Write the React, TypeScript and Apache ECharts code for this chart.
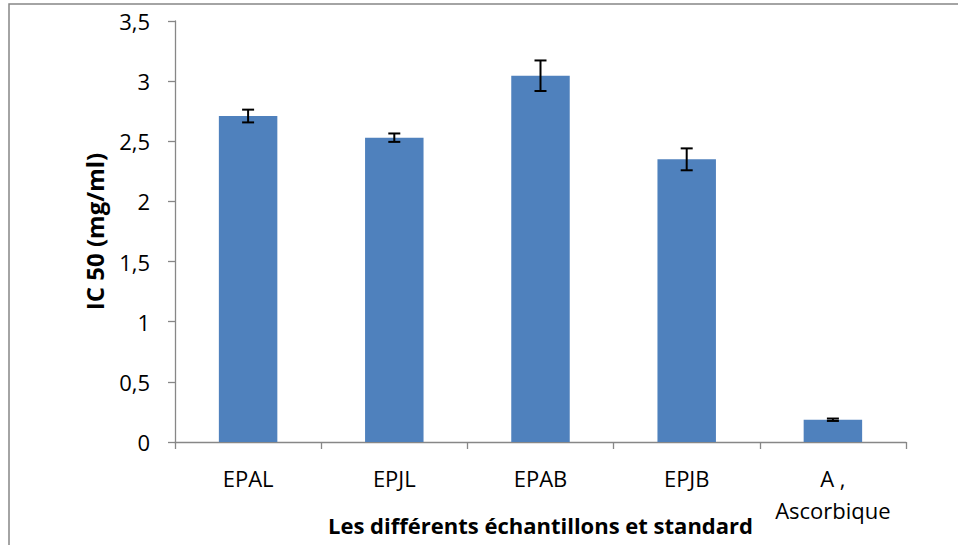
import React, { useEffect, useRef } from "react";
import * as echarts from "echarts";

const categories = ["EPAL", "EPJL", "EPAB", "EPJB", "A ,\nAscorbique"];
const values = [2.71, 2.53, 3.045, 2.35, 0.185];
const errors = [0.053, 0.035, 0.127, 0.091, 0.01];
const yTicks = { min: 0, max: 3.5, interval: 0.5 };

const FONT = "'Open Sans', sans-serif";

export default function App() {
  const ref = useRef<HTMLDivElement>(null);
  useEffect(() => {
    if (!ref.current) return;
    const chart = echarts.init(ref.current, null, { renderer: "svg" });
    const errData = values.map((v, i) => [i, v - errors[i], v + errors[i]]);
    chart.setOption({
      animation: false,
      backgroundColor: "#ffffff",
      graphic: [
        {
          type: "rect",
          shape: { x: 9, y: 4, width: 1000, height: 600 },
          style: { fill: "none", stroke: "#878787", lineWidth: 1.5 },
          silent: true,
        },
      ],
      grid: { left: 175, right: 52, top: 21, bottom: 103, containLabel: false, outerBoundsMode: "none" },
      xAxis: {
        type: "category",
        data: categories,
        axisLine: { lineStyle: { color: "#878787", width: 1.3 } },
        axisTick: { show: true, length: 7, lineStyle: { color: "#878787", width: 1.3 } },
        axisLabel: {
          color: "#000",
          fontFamily: FONT,
          fontSize: 22,
          lineHeight: 32,
          margin: 20,
          interval: 0,
        },
        name: "Les différents échantillons et standard",
        nameLocation: "middle",
        nameGap: 72,
        nameMoveOverlap: false,
        nameTextStyle: { color: "#000", fontFamily: FONT, fontSize: 22, fontWeight: "bold" },
      },
      yAxis: {
        type: "value",
        min: yTicks.min,
        max: yTicks.max,
        interval: yTicks.interval,
        splitLine: { show: false },
        axisLine: { show: true, lineStyle: { color: "#878787", width: 1.3 } },
        axisTick: { show: true, length: 7, lineStyle: { color: "#878787", width: 1.3 } },
        axisLabel: {
          color: "#000",
          fontFamily: FONT,
          fontSize: 22,
          margin: 25,
          formatter: (v: number) => String(v).replace(".", ","),
        },
        name: "IC 50 (mg/ml)",
        nameLocation: "middle",
        nameGap: 69,
        nameMoveOverlap: false,
        nameTextStyle: { color: "#000", fontFamily: FONT, fontSize: 24, fontWeight: "bold" },
      },
      series: [
        {
          type: "bar",
          data: values,
          barWidth: "40%",
          itemStyle: { color: "#4F81BD" },
        },
        {
          type: "custom",
          data: errData,
          z: 10,
          renderItem: (params: any, api: any) => {
            const x = api.value(0);
            const lo = api.coord([x, api.value(1)]);
            const hi = api.coord([x, api.value(2)]);
            const w = 6;
            const style = { stroke: "#000", lineWidth: 2 };
            return {
              type: "group",
              children: [
                { type: "line", shape: { x1: lo[0], y1: lo[1], x2: hi[0], y2: hi[1] }, style },
                { type: "line", shape: { x1: lo[0] - w, y1: lo[1], x2: lo[0] + w, y2: lo[1] }, style },
                { type: "line", shape: { x1: hi[0] - w, y1: hi[1], x2: hi[0] + w, y2: hi[1] }, style },
              ],
            };
          },
        },
      ],
    });
    return () => chart.dispose();
  }, []);
  return (
    <div
      ref={ref}
      style={{ position: "fixed", left: 0, top: 0, width: 958, height: 545 }}
    />
  );
}
